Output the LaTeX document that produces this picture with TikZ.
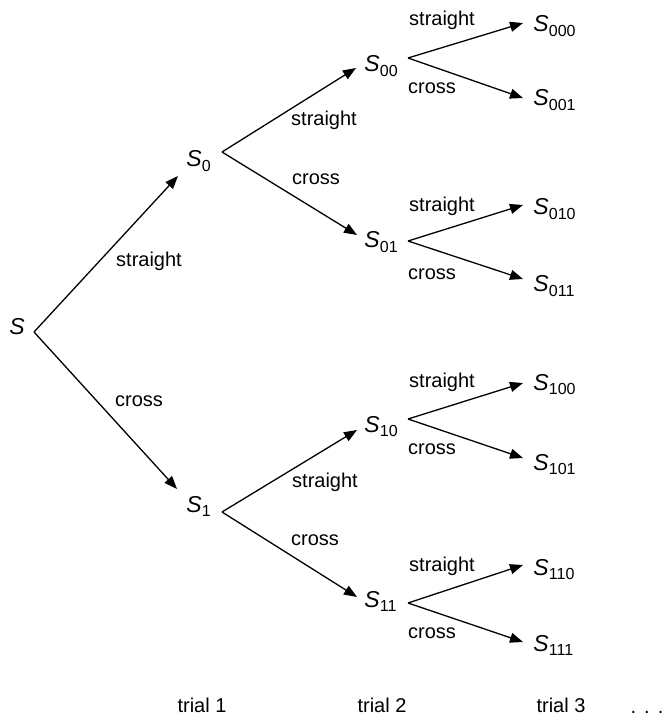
\documentclass[tikz,border=0pt]{standalone}
\usepackage{fontspec}
\setmainfont{Liberation Sans}
\usetikzlibrary{arrows.meta}
\newcommand\Ssub[1]{{\fontsize{11.5}{13}\selectfont\textit{S}}\kern0.1pt\raisebox{-2.2pt}{\fontsize{8}{9}\selectfont #1}}
\tikzset{
  st/.style={anchor=base west, inner sep=0pt, font=\fontsize{10}{12}\selectfont},
  lab/.style={inner sep=0pt, font=\fontsize{10}{12}\selectfont},
  trial/.style={anchor=base, inner sep=0pt, font=\fontsize{10}{12}\selectfont},
  br/.style={line width=0.65pt, -{Triangle[length=6.5pt,width=5pt]}}
}
\begin{document}
\begin{tikzpicture}[x=0.5pt,y=-0.5pt]
\useasboundingbox (0,0) rectangle (662,715);
% state nodes
\node[st] (S) at (9,335) {{\fontsize{11.5}{13}\selectfont\textit{S}}};
\node[st] (S0) at (186,167) {\Ssub{0}};
\node[st] (S1) at (186,512) {\Ssub{1}};
\node[st] (S00) at (364,72) {\Ssub{00}};
\node[st] (S01) at (364,248) {\Ssub{01}};
\node[st] (S10) at (364,432) {\Ssub{10}};
\node[st] (S11) at (364,607) {\Ssub{11}};
\node[st] (S000) at (533,32) {\Ssub{000}};
\node[st] (S001) at (533,106) {\Ssub{001}};
\node[st] (S010) at (533,215) {\Ssub{010}};
\node[st] (S011) at (533,292) {\Ssub{011}};
\node[st] (S100) at (533,390) {\Ssub{100}};
\node[st] (S101) at (533,470) {\Ssub{101}};
\node[st] (S110) at (533,575) {\Ssub{110}};
\node[st] (S111) at (533,651) {\Ssub{111}};
% ports
\coordinate (S-o) at (34,332);
\coordinate (S0-i) at (178,176);
\coordinate (S1-i) at (177,489);
\coordinate (S0-o) at (222,152);
\coordinate (S1-o) at (222,512);
\coordinate (S00-i) at (356,68);
\coordinate (S01-i) at (357,235);
\coordinate (S10-i) at (357,430);
\coordinate (S11-i) at (357,597);
\coordinate (S00-o) at (408,58);
\coordinate (S01-o) at (408,241);
\coordinate (S10-o) at (408,419);
\coordinate (S11-o) at (408,603);
\coordinate (S000-i) at (523,23);
\coordinate (S001-i) at (523,98);
\coordinate (S010-i) at (523,205);
\coordinate (S011-i) at (523,279);
\coordinate (S100-i) at (523,383);
\coordinate (S101-i) at (523,458);
\coordinate (S110-i) at (523,565);
\coordinate (S111-i) at (523,642);
% branches
\draw[br] (S-o) -- (S0-i);
\draw[br] (S-o) -- (S1-i);
\draw[br] (S0-o) -- (S00-i);
\draw[br] (S0-o) -- (S01-i);
\draw[br] (S1-o) -- (S10-i);
\draw[br] (S1-o) -- (S11-i);
\draw[br] (S00-o) -- (S000-i);
\draw[br] (S00-o) -- (S001-i);
\draw[br] (S01-o) -- (S010-i);
\draw[br] (S01-o) -- (S011-i);
\draw[br] (S10-o) -- (S100-i);
\draw[br] (S10-o) -- (S101-i);
\draw[br] (S11-o) -- (S110-i);
\draw[br] (S11-o) -- (S111-i);
% labels
\node[lab] (l1) at (149,261) {straight};
\node[lab] (l2) at (139,401) {cross};
\node[lab] (l3) at (324,120) {straight};
\node[lab] (l4) at (316,179) {cross};
\node[lab] (l5) at (325,482) {straight};
\node[lab] (l6) at (315,540) {cross};
\node[lab] (l7) at (442,20) {straight};
\node[lab] (l8) at (432,88) {cross};
\node[lab] (l9) at (442,206) {straight};
\node[lab] (l10) at (432,274) {cross};
\node[lab] (l11) at (442,382) {straight};
\node[lab] (l12) at (432,449) {cross};
\node[lab] (l13) at (442,566) {straight};
\node[lab] (l14) at (432,633) {cross};
% trials
\node[trial] (t1) at (202,712) {trial 1};
\node[trial] (t2) at (382,712) {trial 2};
\node[trial] (t3) at (561,712) {trial 3};
\node[trial] (dots) at (647,713) {.\hspace{4pt}.\hspace{4pt}.};
\end{tikzpicture}
\end{document}
